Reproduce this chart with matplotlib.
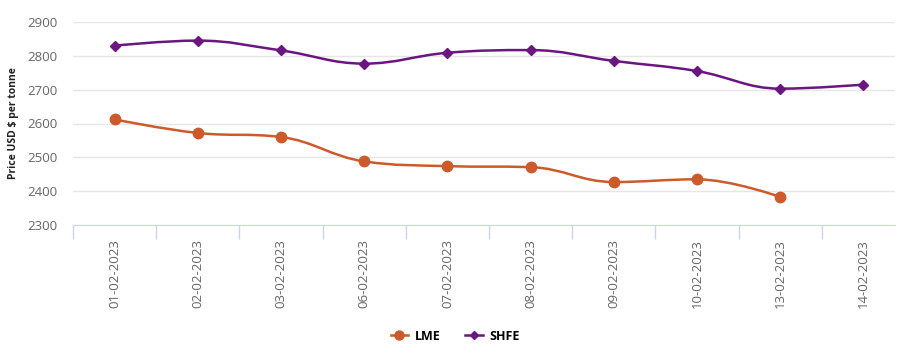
import matplotlib
matplotlib.use("Agg")
import matplotlib.pyplot as plt
from matplotlib.path import Path
from matplotlib.patches import PathPatch
from matplotlib.lines import Line2D
import numpy as np

plt.rcParams["font.family"] = ["Open Sans", "DejaVu Sans"]

DATES = ["01-02-2023", "02-02-2023", "03-02-2023", "06-02-2023", "07-02-2023",
         "08-02-2023", "09-02-2023", "10-02-2023", "13-02-2023", "14-02-2023"]
LME = [2612, 2572, 2560, 2488, 2474, 2471, 2427, 2435, 2383]
SHFE = [2830, 2845, 2816, 2777, 2809, 2817, 2785, 2755, 2703, 2715]

LME_C = "#cc5a2b"
SHFE_C = "#6b1580"


def spline_path(xs, ys, smoothing=1.5):
    # highcharts-style smoothed curve through the points
    n = len(xs)
    verts = [(xs[0], ys[0])]
    codes = [Path.MOVETO]
    lc, rc = [None] * n, [None] * n
    for i in range(n):
        x, y = xs[i], ys[i]
        if 0 < i < n - 1:
            px, py, nx, ny = xs[i-1], ys[i-1], xs[i+1], ys[i+1]
            d = smoothing + 1
            lx, ly = (smoothing * x + px) / d, (smoothing * y + py) / d
            rx, ry = (smoothing * x + nx) / d, (smoothing * y + ny) / d
            if rx != lx:
                corr = (ry - ly) * (rx - x) / (rx - lx) + y - ry
                ly += corr; ry += corr
            if ly > py and ly > y:
                ly = max(py, y); ry = 2 * y - ly
            elif ly < py and ly < y:
                ly = min(py, y); ry = 2 * y - ly
            if ry > ny and ry > y:
                ry = max(ny, y); ly = 2 * y - ry
            elif ry < ny and ry < y:
                ry = min(ny, y); ly = 2 * y - ry
            lc[i], rc[i] = (lx, ly), (rx, ry)
        else:
            lc[i], rc[i] = (x, y), (x, y)
    for i in range(1, n):
        verts += [rc[i-1], lc[i], (xs[i], ys[i])]
        codes += [Path.CURVE4] * 3
    return Path(verts, codes)


fig = plt.figure(figsize=(9.05, 3.53), dpi=100)
ax = fig.add_axes([73 / 905, 1 - 225 / 353, (895 - 73) / 905, (225 - 22) / 353])

x = np.arange(len(DATES))
for vals, col, mk, ms in [(LME, LME_C, "o", 7.5), (SHFE, SHFE_C, "D", 5)]:
    xs = x[:len(vals)]
    ax.add_patch(PathPatch(spline_path(list(xs), list(vals)), fill=False,
                           edgecolor=col, lw=1.8, zorder=3))
    ax.plot(xs, vals, ls="none", marker=mk, ms=ms, color=col, zorder=4)

ax.set_xlim(-0.5, 9.38)
ax.set_ylim(2300, 2900)
ax.set_yticks(np.arange(2300, 2901, 100))
ax.grid(axis="y", color="#e6e6e6", lw=1)
ax.set_axisbelow(True)
for s in ["top", "right", "left"]:
    ax.spines[s].set_visible(False)
ax.spines["bottom"].set_color("#ccd6eb")
ax.tick_params(axis="y", length=0, labelsize=9.5, labelcolor="#666666", pad=11)
ax.set_xticks(x)
ax.set_xticklabels(DATES, rotation=90, fontsize=9.5, color="#666666")
ax.tick_params(axis="x", which="major", length=0, pad=10)
ax.set_xticks(np.arange(-0.5, 9.5, 1), minor=True)
ax.tick_params(axis="x", which="minor", length=10, color="#ccd6eb", width=1)
ax.set_ylabel("Price USD $ per tonne", fontsize=7.5, fontweight="bold", color="#222222", labelpad=6)

handles = [Line2D([], [], color=LME_C, marker="o", ms=6.5, lw=1.8, label="LME"),
           Line2D([], [], color=SHFE_C, marker="D", ms=4.5, lw=1.8, label="SHFE")]
fig.legend(handles=handles, loc="center", bbox_to_anchor=(455 / 905, 1 - 336 / 353),
           ncol=2, frameon=False, handlelength=1.4, handletextpad=0.5, columnspacing=2.0,
           prop={"weight": "bold", "size": 9})

fig.savefig("out.png", dpi=100)
